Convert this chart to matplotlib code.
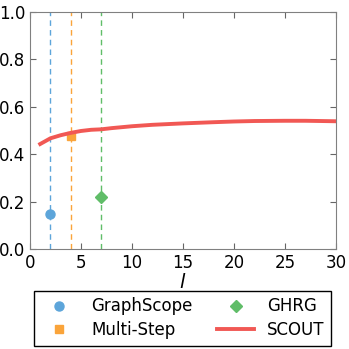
import numpy as np
import matplotlib
matplotlib.use("Agg")
import matplotlib.pyplot as plt

# SCOUT curve
scout_l = [1, 2, 3, 4, 5, 6, 7, 8, 10, 12, 15, 18, 20, 22, 25, 27, 30]
scout_v = [0.443, 0.467, 0.480, 0.490, 0.498, 0.503, 0.505, 0.510, 0.518, 0.524, 0.530, 0.535, 0.538, 0.540, 0.541, 0.541, 0.539]

# baselines: (l, value)
graphscope = (2, 0.146)
multistep = (4, 0.477)
ghrg = (7, 0.221)

c_blue = "#5DA5DA"
c_orange = "#FAA43A"
c_green = "#60BD68"
c_red = "#F15854"

fig = plt.figure(figsize=(3.49, 3.49), dpi=100)
ax = fig.add_axes([30 / 349, 100 / 349, 306 / 349, 237 / 349])

ax.axvline(graphscope[0], color=c_blue, ls=(0, (4, 3)), lw=1.0)
ax.axvline(multistep[0], color=c_orange, ls=(0, (4, 3)), lw=1.0)
ax.axvline(ghrg[0], color=c_green, ls=(0, (4, 3)), lw=1.0)

ax.plot([graphscope[0]], [graphscope[1]], "o", color=c_blue, ms=6.5, mec=c_blue, label="GraphScope")
ax.plot([multistep[0]], [multistep[1]], "s", color=c_orange, ms=6, mec=c_orange, label="Multi-Step")
ax.plot([ghrg[0]], [ghrg[1]], "D", color=c_green, ms=6.5, mec=c_green, label="GHRG")
ax.plot(scout_l, scout_v, "-", color=c_red, lw=2.8, label="SCOUT")

ax.set_xlim(0, 30)
ax.set_ylim(0, 1.0)
ax.set_xticks([0, 5, 10, 15, 20, 25, 30])
ax.set_yticks([0.0, 0.2, 0.4, 0.6, 0.8, 1.0])
ax.tick_params(direction="in", top=True, right=True, length=4, labelsize=12, color="#666666")
for s in ax.spines.values():
    s.set_color("#808080")
ax.set_xlabel("$l$", fontsize=14, labelpad=1)

fig.legend(loc="upper center", bbox_to_anchor=(0.524, 0.167), ncol=2, fontsize=12,
           fancybox=False, edgecolor="black", numpoints=1, handlelength=2.2,
           columnspacing=1.5, framealpha=1, borderaxespad=0, labelspacing=0.35)

fig.savefig("out.png", dpi=100)
